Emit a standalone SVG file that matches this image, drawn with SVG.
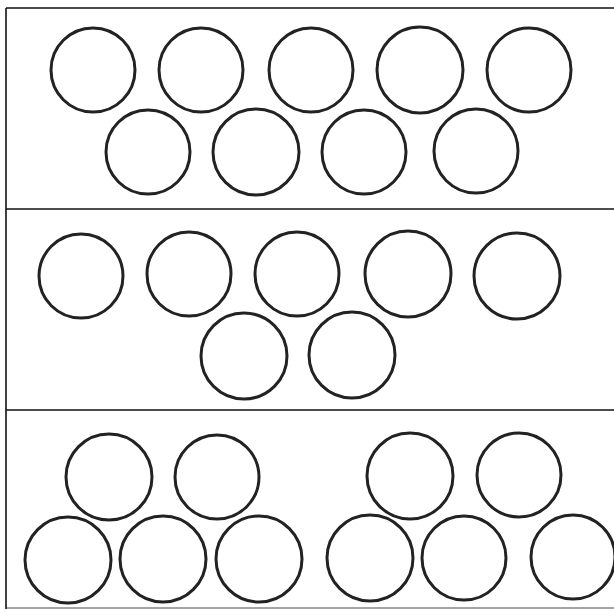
<svg xmlns="http://www.w3.org/2000/svg" width="614" height="610" viewBox="0 0 614 610">
<style>
.c{fill:none;stroke:#222;stroke-width:3}
.b{fill:none;stroke:#111;stroke-width:1.6}
</style>
<rect width="614" height="610" fill="#fff"/>
<g id="frame">
<line class="b" x1="6" y1="8" x2="614" y2="8"/>
<line class="b" x1="6" y1="8" x2="6" y2="609"/>
<line class="b" x1="6" y1="209" x2="614" y2="209"/>
<line class="b" x1="6" y1="410" x2="614" y2="410"/>
<line class="b" x1="6" y1="608" x2="614" y2="608" stroke-opacity="0.5"/>
</g>
<g id="panel1">
<g id="p1a"><circle class="c" cx="93" cy="70" r="42"/></g>
<g id="p1b"><circle class="c" cx="201" cy="70" r="42"/></g>
<g id="p1c"><circle class="c" cx="311" cy="70" r="42"/></g>
<g id="p1d"><circle class="c" cx="420" cy="70" r="43"/></g>
<g id="p1e"><circle class="c" cx="529" cy="70" r="42"/></g>
<g id="p1f"><circle class="c" cx="148" cy="152" r="42"/></g>
<g id="p1g"><circle class="c" cx="256" cy="152" r="43"/></g>
<g id="p1h"><circle class="c" cx="364" cy="152" r="42"/></g>
<g id="p1i"><circle class="c" cx="476" cy="151" r="42"/></g>
</g>
<g id="panel2">
<g id="p2a"><circle class="c" cx="81" cy="276" r="42"/></g>
<g id="p2b"><circle class="c" cx="189" cy="274" r="42"/></g>
<g id="p2c"><circle class="c" cx="297" cy="274" r="42"/></g>
<g id="p2d"><circle class="c" cx="408" cy="274" r="43"/></g>
<g id="p2e"><circle class="c" cx="517" cy="276" r="43"/></g>
<g id="p2f"><circle class="c" cx="244" cy="356" r="43"/></g>
<g id="p2g"><circle class="c" cx="352" cy="355" r="43"/></g>
</g>
<g id="panel3">
<g id="p3a"><circle class="c" cx="109" cy="477" r="43"/></g>
<g id="p3b"><circle class="c" cx="217" cy="477" r="42"/></g>
<g id="p3c"><circle class="c" cx="410" cy="476" r="43"/></g>
<g id="p3d"><circle class="c" cx="519" cy="475" r="42"/></g>
<g id="p3e"><circle class="c" cx="68" cy="560" r="43"/></g>
<g id="p3f"><circle class="c" cx="163" cy="559" r="43"/></g>
<g id="p3g"><circle class="c" cx="259" cy="559" r="43"/></g>
<g id="p3h"><circle class="c" cx="370" cy="558" r="43"/></g>
<g id="p3i"><circle class="c" cx="464" cy="558" r="42"/></g>
<g id="p3j"><circle class="c" cx="573" cy="557" r="42"/></g>
</g>
<g id="connectors"/>
</svg>
